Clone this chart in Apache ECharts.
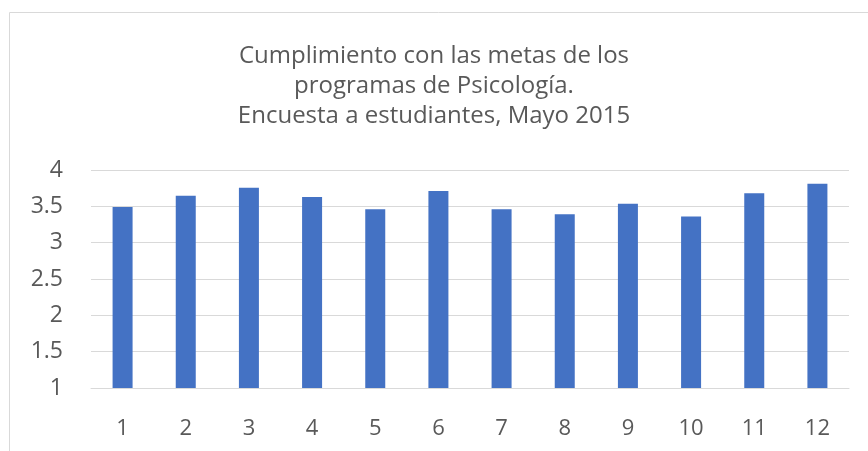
<!DOCTYPE html>
<html lang="es">
<head>
    <meta charset="UTF-8">
    <script src="https://cdn.jsdelivr.net/npm/echarts/dist/echarts.min.js"></script>
    <style>
        html, body { margin: 0; padding: 0; background: #fff; }
        #chart { width: 868px; height: 451px; }
    </style>
</head>
<body>
<div id="chart"></div>
<script>
    // datos
    let programas = ['1', '2', '3', '4', '5', '6', '7', '8', '9', '10', '11', '12'];
    let puntajes = [3.49, 3.645, 3.755, 3.63, 3.46, 3.71, 3.46, 3.39, 3.535, 3.36, 3.68, 3.81];
    let titulo = 'Cumplimiento con las metas de los\nprogramas de Psicología.\nEncuesta a estudiantes, Mayo 2015';

    let textColor = '#595959';
    let fuente = '"Open Sans", sans-serif';

    let myChart = echarts.init(document.getElementById('chart'));
    myChart.setOption({
        animation: false,
        title: {
            text: titulo,
            left: 'center',
            top: 36,
            textStyle: {
                color: textColor,
                fontFamily: fuente,
                fontWeight: 'normal',
                fontSize: 24,
                lineHeight: 30
            }
        },
        graphic: [
            // borde del área del gráfico
            { type: 'line', shape: { x1: 9.5, y1: 12.5, x2: 868, y2: 12.5 }, style: { stroke: '#d9d9d9', lineWidth: 1 } },
            { type: 'line', shape: { x1: 9.5, y1: 12.5, x2: 9.5, y2: 451 }, style: { stroke: '#d9d9d9', lineWidth: 1 } }
        ],
        grid: { left: 91, right: 19, top: 170, bottom: 63 },
        xAxis: {
            type: 'category',
            data: programas,
            axisTick: { show: false },
            axisLine: { lineStyle: { color: '#d9d9d9', width: 1 } },
            axisLabel: { color: textColor, fontFamily: fuente, fontSize: 22, margin: 30 }
        },
        yAxis: {
            type: 'value',
            min: 1,
            max: 4,
            interval: 0.5,
            axisLine: { show: false },
            axisTick: { show: false },
            splitLine: { lineStyle: { color: '#d9d9d9', width: 1 } },
            axisLabel: { color: textColor, fontFamily: fuente, fontSize: 23, margin: 28 }
        },
        series: [{
            type: 'bar',
            data: puntajes,
            barWidth: 20,
            itemStyle: { color: '#4472c4' }
        }]
    });
</script>
</body>
</html>
